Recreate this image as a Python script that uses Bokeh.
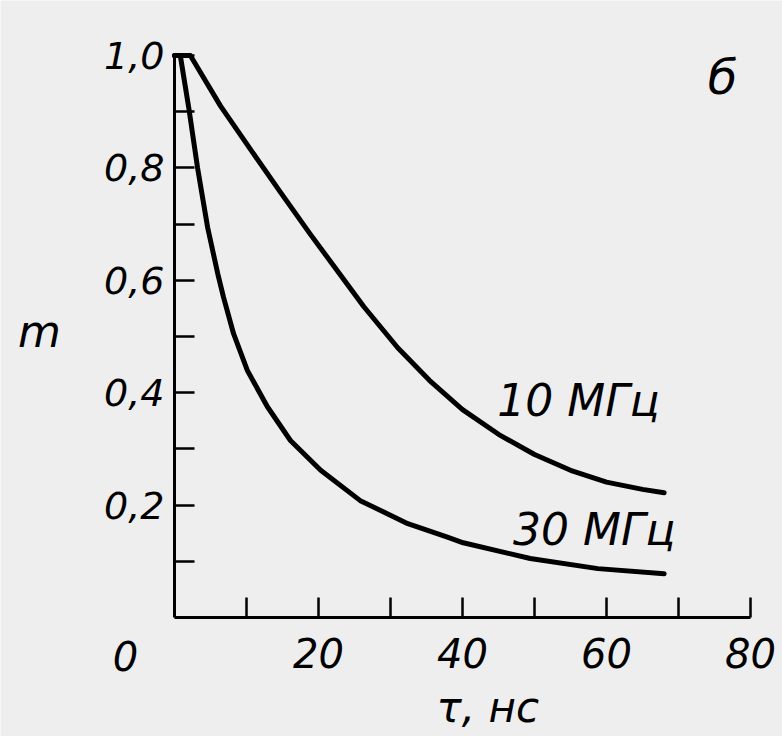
from bokeh.plotting import figure
from bokeh.models import Range1d, FixedTicker, CustomJSTickFormatter, Label, LinearAxis
from bokeh.embed import file_html
from bokeh.resources import INLINE

# --- data ---
tau_10 = [0, 2.2, 6.4, 10.6, 14.7, 18.75, 22.2, 26.3, 31.0, 35.4, 40.0, 45.0, 50.0, 55.0, 60.0, 65.0, 68.0]
m_10 = [1.0, 1.0, 0.91, 0.832, 0.757, 0.684, 0.624, 0.553, 0.48, 0.422, 0.37, 0.326, 0.29, 0.262, 0.241, 0.228, 0.222]

tau_30 = [0, 0.8, 2.0, 3.2, 4.6, 6.0, 6.8, 8.2, 10.1, 12.9, 16.1, 20.3, 25.8, 32.4, 37.9, 40.1, 49.4, 58.8, 68.0]
m_30 = [1.0, 1.0, 0.905, 0.80, 0.694, 0.612, 0.57, 0.505, 0.44, 0.375, 0.315, 0.262, 0.208, 0.167, 0.143, 0.133, 0.105, 0.087, 0.078]

x_major = [20, 40, 60, 80]
x_minor = [10, 30, 50, 70]
y_major = [0.2, 0.4, 0.6, 0.8, 1.0]
y_minor = [0.1, 0.3, 0.5, 0.7, 0.9]

series_labels = ["10 МГц", "30 МГц"]

FONT = "DejaVu Sans"
BG = "#eeeeee"

p = figure(width=782, height=736,
           x_range=Range1d(-24.17, 84.44), y_range=Range1d(-0.2117, 1.0979),
           output_backend="svg", toolbar_location=None,
           x_axis_type=None, y_axis_type=None,
           min_border=0, min_border_left=0, min_border_right=0,
           min_border_top=0, min_border_bottom=0)
p.background_fill_color = BG
p.border_fill_color = BG
p.outline_line_color = None
p.grid.visible = False

xaxis = LinearAxis(fixed_location=0, bounds=(0, 80),
                   ticker=FixedTicker(ticks=x_major, minor_ticks=x_minor))
yaxis = LinearAxis(fixed_location=0, bounds=(0, 1.0),
                   ticker=FixedTicker(ticks=y_major, minor_ticks=y_minor),
                   formatter=CustomJSTickFormatter(code="return tick.toFixed(1).replace('.', ',');"))

for ax in (xaxis, yaxis):
    ax.axis_line_color = "black"
    ax.axis_line_width = 3
    ax.major_tick_in = 20
    ax.major_tick_out = 0
    ax.minor_tick_in = 20
    ax.minor_tick_out = 0
    ax.major_tick_line_color = "black"
    ax.minor_tick_line_color = "black"
    ax.major_tick_line_width = 2.5
    ax.minor_tick_line_width = 2.5
    ax.major_label_text_font = FONT
    ax.major_label_text_font_style = "italic"
    ax.major_label_text_color = "black"

xaxis.major_label_text_font_size = "40px"
xaxis.major_label_standoff = 20
yaxis.major_label_text_font_size = "38px"
yaxis.major_label_standoff = 10

p.add_layout(xaxis, "below")
p.add_layout(yaxis, "left")

p.line(tau_10, m_10, line_color="black", line_width=5, line_join="round", line_cap="round")
p.line(tau_30, m_30, line_color="black", line_width=5, line_join="round", line_cap="round")

def lab(x, y, text, size, align="center"):
    p.add_layout(Label(x=x, y=y, text=text, text_font=FONT, text_font_style="italic",
                       text_font_size=size, text_color="black",
                       text_align=align, text_baseline="middle"))

lab(56.1, 0.386, series_labels[0], "44px")
lab(58.3, 0.157, series_labels[1], "44px")
lab(-6.8, -0.068, "0", "40px")
lab(-18.75, 0.509, "m", "44px")
lab(43.5, -0.16, "τ, нс", "42px")
lab(76.1, 0.962, "б", "48px")

open("out.html", "w").write(file_html(p, INLINE))
